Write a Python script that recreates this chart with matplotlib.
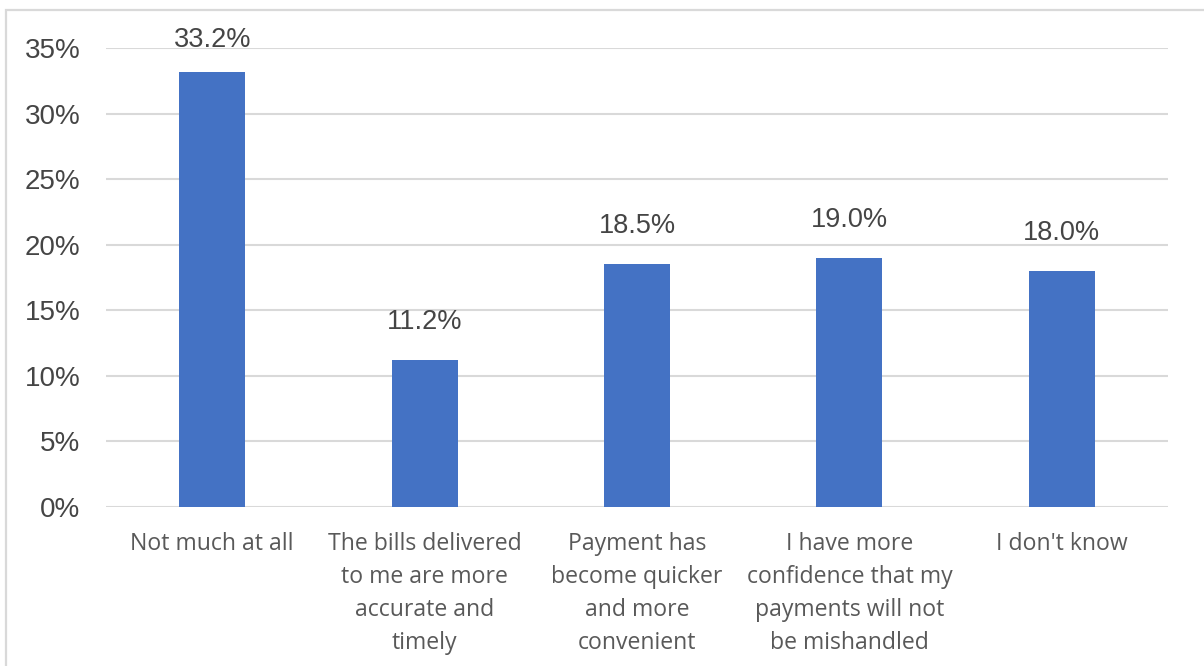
import matplotlib
matplotlib.use("Agg")
import matplotlib.pyplot as plt
from matplotlib.patches import Rectangle

categories = [
    "Not much at all",
    "The bills delivered\nto me are more\naccurate and\ntimely",
    "Payment has\nbecome quicker\nand more\nconvenient",
    "I have more\nconfidence that my\npayments will not\nbe mishandled",
    "I don't know",
]
values = [33.2, 11.2, 18.5, 19.0, 18.0]
yticks = [0, 5, 10, 15, 20, 25, 30, 35]

W, H = 1204, 666
fig = plt.figure(figsize=(W / 100, H / 100), dpi=100)
fig.patch.set_facecolor("white")

# outer chart frame
fig.add_artist(Rectangle((6 / W, -0.1), 1.2, 1 - 10 / H + 0.1,
                         transform=fig.transFigure, fill=False,
                         edgecolor="#d9d9d9", linewidth=1.6))

ax = fig.add_axes([106 / W, 1 - 507 / H, (1168 - 106) / W, (507 - 48) / H])
num_color = "#454545"
text_color = "#595959"
grid_color = "#d9d9d9"

x = list(range(len(categories)))
ax.bar(x, values, width=0.31, color="#4472c4", zorder=3)

# value labels above bars, kept inside the chart frame
for xi, v in zip(x, values):
    ax.text(xi, min(v + 2.9, 35.6), f"{v:.1f}%", ha="center", va="center",
            fontsize=19.5, color=num_color, family="Liberation Sans",
            clip_on=False)

ax.set_xlim(-0.5, len(categories) - 0.5)
ax.set_ylim(0, 35)
ax.set_yticks(yticks)
ax.set_yticklabels([f"{t}%" for t in yticks], fontsize=20,
                   color=num_color, family="Liberation Sans")
ax.set_xticks(x)
ax.set_xticklabels(categories, fontsize=16.6, color=text_color,
                   family="Open Sans", linespacing=1.5, va="top")

for t in yticks:
    ax.axhline(t, color=grid_color, linewidth=1.5, zorder=1)

for s in ax.spines.values():
    s.set_visible(False)
ax.tick_params(axis="both", length=0)
ax.tick_params(axis="y", pad=18.5)
ax.tick_params(axis="x", pad=18)

fig.savefig("out.png", dpi=100, facecolor="white")
